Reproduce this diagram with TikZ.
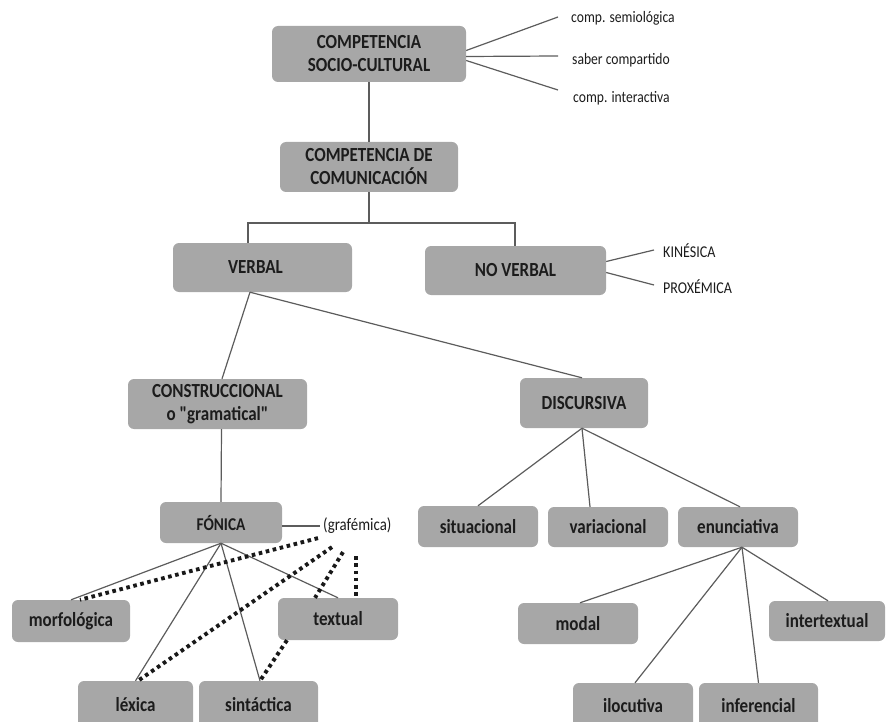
\documentclass[tikz,border=0pt]{standalone}
\usepackage{fontspec}
\setmainfont[FakeStretch=0.85,Ligatures=TeXOff]{Carlito}
\definecolor{boxgray}{HTML}{A7A7A7}
\definecolor{linegray}{HTML}{5C5C5C}
\definecolor{ink}{HTML}{1C1C1C}
% rounded grey box given by its corners: name, x1, y1, x2, y2, text
\newcommand\gbox[7][]{%
  \node[box,#1,minimum width={(#5-#3)*1pt},minimum height={(#6-#4)*1pt}]
    (#2) at ({(#3+#5)/2},{(#4+#6)/2}) {#7};}
\begin{document}
\begin{tikzpicture}[x=1pt,y=-1pt,
  box/.style={fill=boxgray,rounded corners=6pt,inner sep=0pt,text=ink,
    align=center,font=\bfseries\fontsize{20}{23}\selectfont},
  lbl/.style={text=ink,inner sep=0pt,anchor=west,font=\fontsize{16}{18}\selectfont},
  link/.style={draw=linegray,line width=1.2pt},
  dots/.style={draw=black!90,line width=3.9pt,dash pattern=on 3.6pt off 3.6pt}]
\useasboundingbox (0,0) rectangle (886,722);
\clip (0,0) rectangle (886,722);

% --- boxes ---
\gbox{soc}{272}{26}{466}{82}{COMPETENCIA\\SOCIO-CULTURAL}
\gbox{com}{280}{142}{458}{192}{COMPETENCIA DE\\COMUNICACIÓN}
\gbox{verb}{173}{243}{352}{292}{VERBAL\hspace*{14pt}}
\gbox{nover}{425}{246}{606}{295}{NO VERBAL}
\gbox{cons}{128}{379}{307}{429}{CONSTRUCCIONAL\\o "gramatical"}
\gbox{disc}{520}{378}{648}{428}{DISCURSIVA}
\gbox[font=\bfseries\fontsize{18}{20}\selectfont]{fon}{160}{502}{282}{543}{FÓNICA}
\gbox{morf}{12}{600}{130}{642}{morfológica}
\gbox{tex}{278}{598}{398}{640}{textual}
\gbox{lex}{78}{681}{193}{728}{léxica}
\gbox{sin}{199}{681}{318}{728}{sintáctica}
\gbox{sit}{418}{506}{538}{547}{situacional}
\gbox{var}{548}{507}{668}{547}{variacional}
\gbox{enu}{678}{507}{798}{547}{enunciativa}
\gbox{modal}{518}{603}{638}{644}{modal}
\gbox{inter}{769}{601}{885}{641}{intertextual}
\gbox{iloc}{573}{683}{693}{728}{ilocutiva}
\gbox{infer}{699}{683}{818}{728}{inferencial}

% --- free labels ---
\node[lbl] (semio) at (571,18) {comp. semiológica};
\node[lbl] (saber) at (572,60) {saber compartido};
\node[lbl] (inter2) at (573,98) {comp. interactiva};
\node[lbl,font=\fontsize{16.5}{18}\selectfont] (kin) at (663,251) {KINÉSICA};
\node[lbl,font=\fontsize{16.5}{18}\selectfont] (prox) at (663,287) {PROXÉMICA};
\node[lbl,font=\fontsize{17.5}{19}\selectfont] (graf) at (323,526) {(grafémica)};

% --- connectors ---
\draw[link] ([yshift=3.5pt]soc.east) -- ([xshift=-13pt,yshift=1pt]semio.west);
\draw[link] ([yshift=-2.5pt]soc.east) -- ([xshift=-14pt,yshift=4pt]saber.west);
\draw[link] ([yshift=-6.5pt]soc.east) -- ([xshift=-15pt,yshift=8pt]inter2.west);

\draw[link] (soc.south) -- (com.north);
\coordinate (bus) at (369,223);
\draw[link] (com.south) -- (bus);
\draw[link] ([xshift=-14.5pt]verb.north) |- (bus) -| ([xshift=-0.5pt]nover.north);

\draw[link] ([yshift=9pt]nover.east) -- ([xshift=-9pt,yshift=1pt]kin.west);
\draw[link] ([yshift=-2pt]nover.east) -- ([xshift=-9pt,yshift=2pt]prox.west);

\draw[link] ([xshift=-12.5pt]verb.south) -- ([xshift=4.5pt]cons.north);
\draw[link] ([xshift=-12.5pt]verb.south) -- ([xshift=-2pt]disc.north);

\draw[link] ([xshift=4pt]cons.south) -- (fon.north);
\draw[link] ([yshift=-3.5pt]fon.east) -- ([xshift=-3pt]graf.west);

\draw[link] (fon.south) -- (morf.north);
\draw[link] (fon.south) -- (lex.north);
\draw[link] (fon.south) -- ([xshift=1.5pt]sin.north);
\draw[link] (fon.south) -- (tex.north);

\draw[dots] ([xshift=-5pt,yshift=-4pt]graf.south west) -- ([xshift=9pt]morf.north);
\draw[dots] ([xshift=9pt,yshift=-13pt]graf.south west) -- ([xshift=2.5pt]lex.north);
\draw[dots] ([xshift=20pt,yshift=-18pt]graf.south west) -- ([xshift=-23pt]tex.north);
\draw[dots] ([xshift=33pt,yshift=-22pt]graf.south west) -- ([xshift=18pt]tex.north);
\draw[dots] ([xshift=-51pt]tex.south) -- ([xshift=1.5pt]sin.north);

\draw[link] ([xshift=-2pt]disc.south) -- (sit.north);
\draw[link] ([xshift=-2pt]disc.south) -- ([xshift=-18pt]var.north);
\draw[link] ([xshift=-2pt]disc.south) -- ([xshift=2pt]enu.north);

\draw[link] ([xshift=4pt]enu.south) -- ([xshift=2pt]modal.north);
\draw[link] ([xshift=4pt]enu.south) -- ([xshift=2pt]iloc.north);
\draw[link] ([xshift=4pt]enu.south) -- (infer.north);
\draw[link] ([xshift=4pt]enu.south) -- ([xshift=1pt]inter.north);
\end{tikzpicture}
\end{document}
